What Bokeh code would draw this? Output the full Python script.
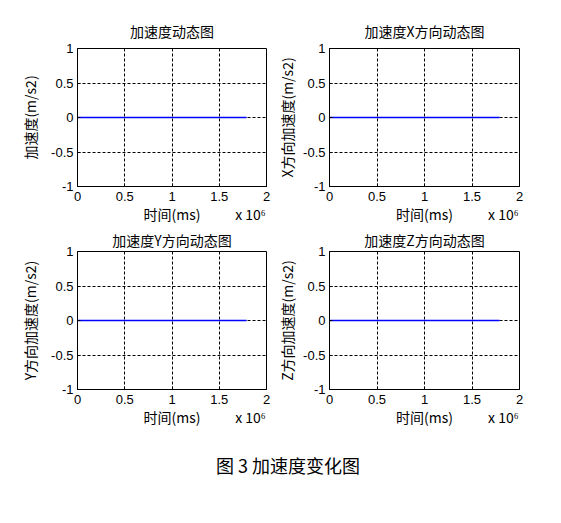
from bokeh.plotting import figure
from bokeh.layouts import column, row
from bokeh.models import Range1d, FixedTicker, LinearAxis, Div
from bokeh.embed import file_html
from bokeh.resources import INLINE

# ---- data ----
time_ms = [0, 1790000]
acc_total = [0, 0]
acc_x = [0, 0]
acc_y = [0, 0]
acc_z = [0, 0]

x_tick_vals = [0, 500000, 1000000, 1500000, 2000000]
x_tick_labels = ["0", "0.5", "1", "1.5", "2"]
y_tick_vals = [-1, -0.5, 0, 0.5, 1]
y_tick_labels = ["-1", "-0.5", "0", "0.5", "1"]

titles = ["加速度动态图", "加速度X方向动态图", "加速度Y方向动态图", "加速度Z方向动态图"]
ylabels = ["加速度(m/s2)", "X方向加速度(m/s2)", "Y方向加速度(m/s2)", "Z方向加速度(m/s2)"]
xlabel = "时间(ms)"
x_scale_note = "x 10⁶"
caption = "图 3 加速度变化图"
series = [acc_total, acc_x, acc_y, acc_z]

CJK = "Noto Sans CJK SC"
NUM = "Liberation Sans"


def make(i, fw, bl, br, bt, bb, lab_standoff, title_standoff):
    p = figure(frame_width=fw, frame_height=138, output_backend="svg", toolbar_location=None,
               x_range=Range1d(0, 2000000), y_range=Range1d(-1, 1),
               min_border_left=bl, min_border_right=br, min_border_top=bt, min_border_bottom=bb)
    p.background_fill_color = "white"
    p.border_fill_color = "white"
    p.outline_line_color = "black"
    p.outline_line_width = 1
    p.title.text = titles[i]
    p.title.text_font = CJK
    p.title.text_font_size = "14px"
    p.title.text_font_style = "normal"
    p.title.text_color = "black"
    p.title.text_line_height = 1.0
    p.title.align = "center"
    p.title.standoff = title_standoff
    p.line(time_ms, series[i], line_color="#0000ff", line_width=1.3)

    p.xaxis.ticker = FixedTicker(ticks=x_tick_vals)
    p.xaxis.major_label_overrides = {v: l for v, l in zip(x_tick_vals, x_tick_labels)}
    p.yaxis.ticker = FixedTicker(ticks=y_tick_vals)
    p.yaxis.major_label_overrides = {v: l for v, l in zip(y_tick_vals, y_tick_labels)}
    for ax in (p.xaxis, p.yaxis):
        ax.minor_tick_line_color = None
        ax.minor_tick_out = 0
        ax.major_tick_out = 0
        ax.major_tick_in = 3
        ax.major_tick_line_color = "black"
        ax.axis_line_color = "black"
        ax.major_label_text_font = NUM
        ax.major_label_text_font_size = "13px"
        ax.major_label_text_color = "black"
        ax.major_label_text_line_height = 1.0
        ax.axis_label_text_font = CJK
        ax.axis_label_text_font_size = "14px"
        ax.axis_label_text_font_style = "normal"
        ax.axis_label_text_color = "black"
        ax.axis_label_text_line_height = 1.0
        ax.major_label_standoff = 4
    p.xaxis.major_label_standoff = 5
    p.yaxis.axis_label = ylabels[i]
    p.yaxis.axis_label_standoff = lab_standoff

    # second band below the ticks: axis title in the middle, scale note at the right
    note_pos = [1000000, 1830000]
    lab_axis = LinearAxis(ticker=FixedTicker(ticks=note_pos),
                          major_label_overrides={note_pos[0]: xlabel, note_pos[1]: x_scale_note},
                          axis_line_color=None, major_tick_line_color=None,
                          minor_tick_line_color=None, major_tick_out=0, major_tick_in=0,
                          minor_tick_out=0, minor_tick_in=0, major_label_standoff=0,
                          major_label_text_font=CJK, major_label_text_font_size="14px",
                          major_label_text_line_height=1.0,
                          major_label_text_color="black")
    p.add_layout(lab_axis, "below")

    for g in (p.xgrid, p.ygrid):
        g.grid_line_color = "black"
        g.grid_line_dash = "3 2"
        g.grid_line_width = 1
    p.xgrid.ticker = FixedTicker(ticks=x_tick_vals)
    p.ygrid.ticker = FixedTicker(ticks=y_tick_vals)
    return p


p1 = make(0, 189, 77, 8, 48, 40, 8, 15)
p2 = make(1, 190, 53, 30, 48, 40, 3, 15)
p3 = make(2, 189, 77, 8, 23, 50, 8, 3)
p4 = make(3, 190, 53, 30, 23, 50, 3, 3)

cap = Div(text='<div style="width:549px;padding-left:17px;box-sizing:border-box;text-align:center;'
               'font-family:\'Noto Sans CJK SC\';font-size:18px;color:black;padding-top:9px;">'
               + caption + '</div>', width=549, height=60)

layout = column(row(p1, p2), row(p3, p4), cap)

open("out.html", "w").write(file_html(layout, INLINE))
